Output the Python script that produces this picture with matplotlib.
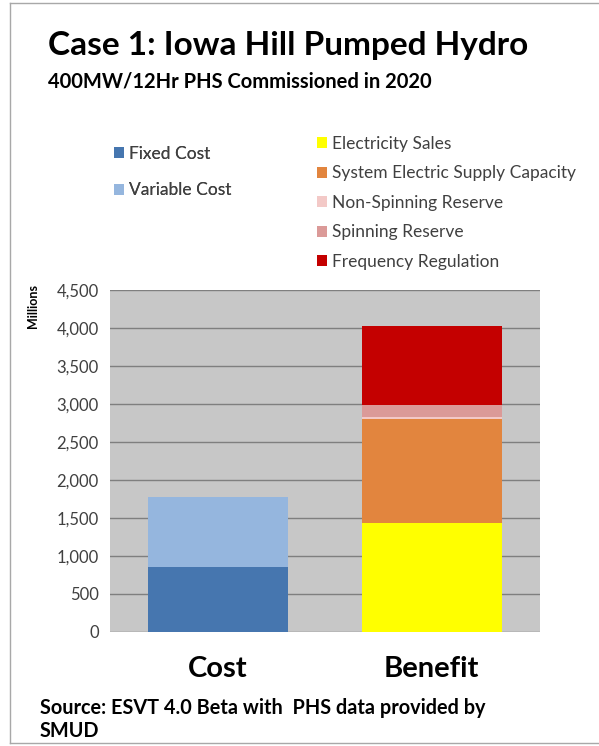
import matplotlib
matplotlib.use("Agg")
import matplotlib.pyplot as plt
from matplotlib.lines import Line2D

plt.rcParams['font.family'] = ['Lato', 'DejaVu Sans']

categories = ["Cost", "Benefit"]
cost_series = ["Fixed Cost", "Variable Cost"]
cost_values = [860, 910]
cost_colors = ["#4676AF", "#95B6DE"]
benefit_series = ["Electricity Sales", "System Electric Supply Capacity",
                  "Non-Spinning Reserve", "Spinning Reserve", "Frequency Regulation"]
benefit_values = [1440, 1360, 30, 160, 1030]
benefit_colors = ["#FFFF00", "#E2853E", "#F3C9C7", "#DB9A98", "#C40000"]
yticks = [0, 500, 1000, 1500, 2000, 2500, 3000, 3500, 4000, 4500]
ytick_labels = ["0", "500", "1,000", "1,500", "2,000", "2,500", "3,000", "3,500", "4,000", "4,500"]

W, H = 599, 746
fig = plt.figure(figsize=(W / 100, H / 100), dpi=100)
fig.patch.set_facecolor("white")

ax = fig.add_axes([110 / W, (H - 632) / H, (540 - 110) / W, (632 - 290) / H])
ax.set_facecolor("#C7C7C7")
ax.set_axisbelow(True)
ax.grid(axis="y", color="#7F7F7F", linewidth=1.0)
for s in ax.spines.values():
    s.set_visible(False)

width = 0.656
cost_handles = []
bottom = 0
for name, val, col in zip(cost_series, cost_values, cost_colors):
    b = ax.bar(0, val, width=width, bottom=bottom, color=col, label=name, linewidth=0)
    cost_handles.append(b)
    bottom += val
benefit_handles = []
bottom = 0
for name, val, col in zip(benefit_series, benefit_values, benefit_colors):
    b = ax.bar(1, val, width=width, bottom=bottom, color=col, label=name, linewidth=0)
    benefit_handles.append(b)
    bottom += val

ax.set_xlim(-0.506, 1.508)
ax.set_ylim(0, 4500)
ax.set_yticks(yticks)
ax.set_yticklabels(ytick_labels, fontsize=12, color="#404040")
ax.tick_params(axis="y", length=0, pad=8)
ax.set_xticks([0, 1])
ax.set_xticklabels(categories, fontsize=21, fontweight="bold", color="black")
ax.tick_params(axis="x", length=0, pad=17)

fig.text(33 / W, 1 - 306 / H, "Millions", rotation=90, fontsize=9, fontweight="bold",
         ha="center", va="center")

fig.text(48 / W, 1 - 45 / H, "Case 1: Iowa Hill Pumped Hydro", fontsize=24,
         fontweight="bold", ha="left", va="center")
fig.text(48 / W, 1 - 81 / H, "400MW/12Hr PHS Commissioned in 2020", fontsize=14.5,
         fontweight="bold", ha="left", va="center")
fig.text(40 / W, 1 - 708 / H, "Source: ESVT 4.0 Beta with  PHS data provided by", fontsize=14.3,
         fontweight="bold", ha="left", va="center")
fig.text(40 / W, 1 - 731 / H, "SMUD", fontsize=14.3, fontweight="bold", ha="left", va="center")

leg1 = fig.legend(handles=cost_handles, labels=cost_series, loc="upper left",
                  bbox_to_anchor=(98 / W, 1 - 130 / H), frameon=False, fontsize=12.5,
                  handlelength=0.6, handleheight=0.6, handletextpad=0.3, labelspacing=1.2,
                  labelcolor="#404040")
leg2 = fig.legend(handles=benefit_handles, labels=benefit_series, loc="upper left",
                  bbox_to_anchor=(301 / W, 1 - 120 / H), frameon=False, fontsize=12.5,
                  handlelength=0.6, handleheight=0.6, handletextpad=0.3, labelspacing=0.78,
                  labelcolor="#404040")
fig.add_artist(leg1)

border = "#A8A8A8"
fig.add_artist(Line2D([10 / W, 10 / W], [1 - 743 / H, 1 - 3 / H], color=border, lw=1))
fig.add_artist(Line2D([10 / W, 1], [1 - 3 / H, 1 - 3 / H], color=border, lw=1))
fig.add_artist(Line2D([10 / W, 1], [1 - 743 / H, 1 - 743 / H], color=border, lw=1))

fig.savefig("out.png", dpi=100)
